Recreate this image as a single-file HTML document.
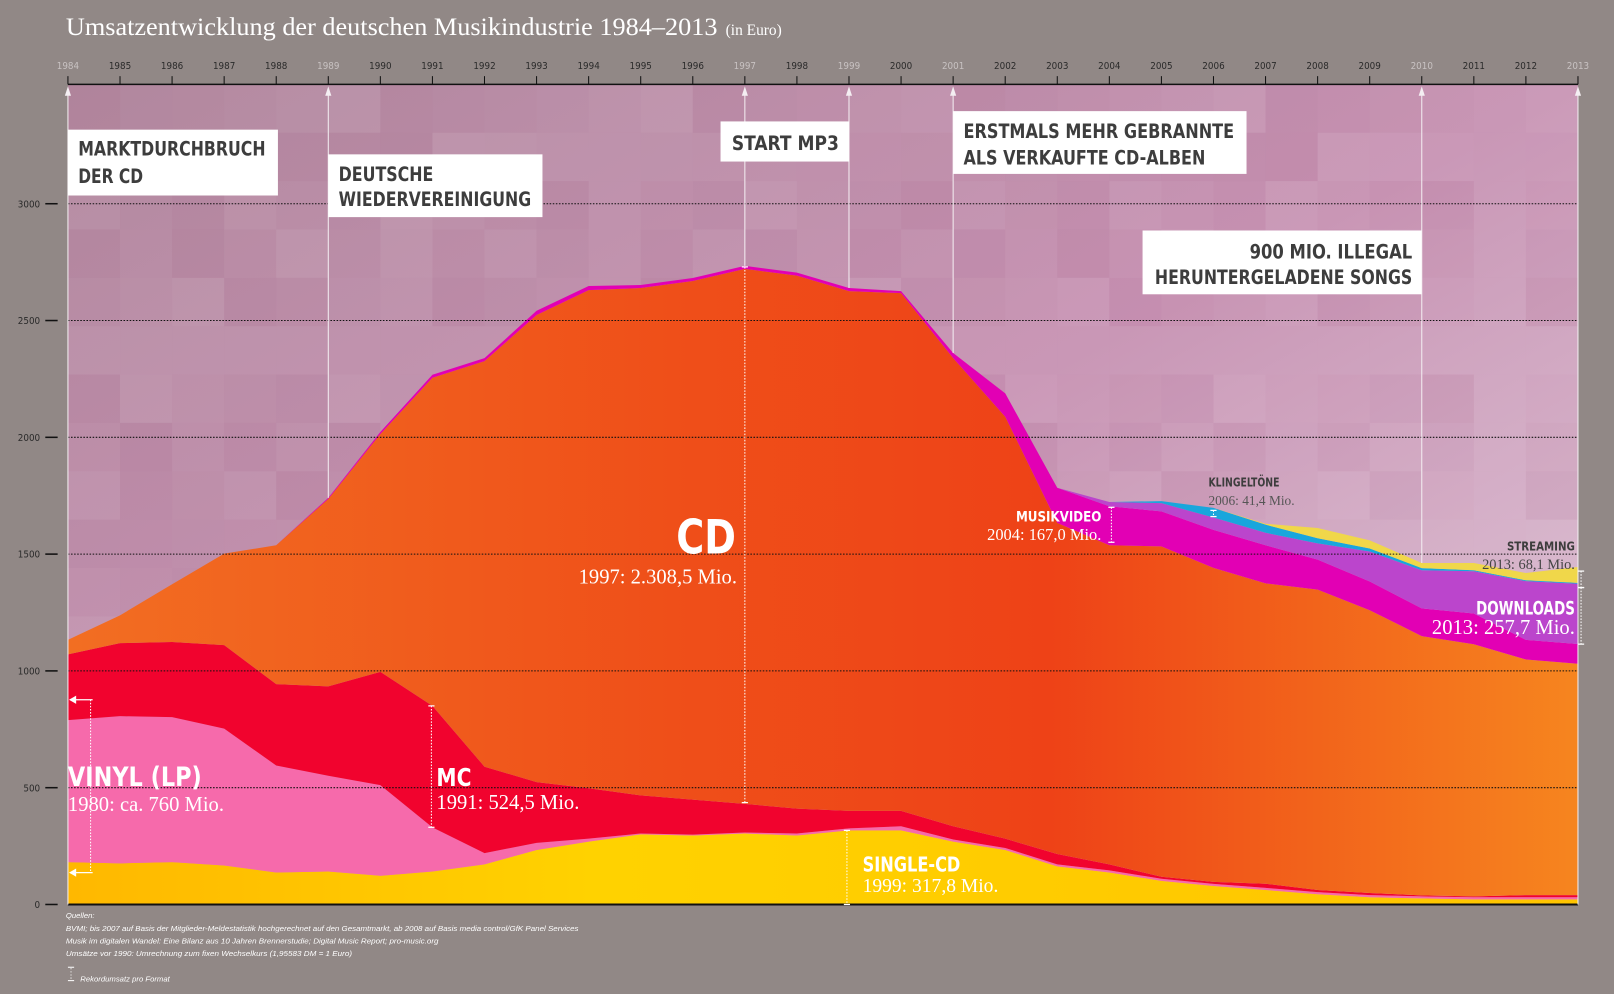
<!DOCTYPE html>
<html><head><meta charset="utf-8">
<style>
html,body{margin:0;padding:0;background:#918886;}
svg{display:block;}
.ax{font-family:"Liberation Sans Narrow","DejaVu Sans Condensed","Liberation Sans",sans-serif;font-size:9.5px;fill:#2a2a2a;}
.box{font-family:"DejaVu Sans Condensed","Liberation Sans Narrow","Liberation Sans",sans-serif;font-weight:bold;fill:#3d3d3d;font-size:19px;}
.lbl{font-family:"DejaVu Sans Condensed","Liberation Sans Narrow","Liberation Sans",sans-serif;font-weight:bold;fill:#fff;}
.ser{font-family:"Liberation Serif",serif;fill:#fff;}
.foot{font-family:"Liberation Sans Narrow","Liberation Sans",sans-serif;font-style:italic;font-size:7.5px;fill:#fff;}
</style></head>
<body>
<svg id="chart" width="1614" height="994" viewBox="0 0 1568 966" preserveAspectRatio="none" xmlns="http://www.w3.org/2000/svg">
<defs>
<linearGradient id="bgG" x1="0" y1="0" x2="1" y2="1">
<stop offset="0" stop-color="#b38aa0"/><stop offset="0.5" stop-color="#c894b4"/><stop offset="1" stop-color="#e2cbdb"/>
</linearGradient>
<linearGradient id="cdG" x1="0" y1="0" x2="1" y2="0">
<stop offset="0" stop-color="#f26e22"/><stop offset="0.4" stop-color="#ef4f19"/><stop offset="0.65" stop-color="#ee4217"/><stop offset="1" stop-color="#f6851f"/>
</linearGradient>
<linearGradient id="sgG" x1="0" y1="0" x2="1" y2="0">
<stop offset="0" stop-color="#ffb800"/><stop offset="0.35" stop-color="#ffd200"/><stop offset="1" stop-color="#ffc400"/>
</linearGradient>
</defs>
<rect x="0" y="0" width="1568" height="966" fill="#918886"/>
<text x="64" y="34" class="ser" font-size="25" textLength="633" lengthAdjust="spacingAndGlyphs">Umsatzentwicklung der deutschen Musikindustrie 1984–2013</text>
<text x="705" y="34" class="ser" font-size="15">(in Euro)</text>
<rect x="66" y="82" width="1467" height="797" fill="url(#bgG)"/>
<g id="mosaic"></g>
<g id="areas"></g>
<g id="grid"></g>
<g id="xaxis"></g>
<g id="yaxis"></g>
<g id="events"></g>

<g>
<rect x="66" y="126" width="204" height="64" fill="#fff"/>
<text class="box" x="76" y="151" textLength="182" lengthAdjust="spacingAndGlyphs">MARKTDURCHBRUCH</text><text class="box" x="76" y="178" textLength="63" lengthAdjust="spacingAndGlyphs">DER CD</text></g>
<g>
<rect x="319" y="150" width="208" height="61" fill="#fff"/>
<text class="box" x="329" y="176" textLength="92" lengthAdjust="spacingAndGlyphs">DEUTSCHE</text><text class="box" x="329" y="200" textLength="187" lengthAdjust="spacingAndGlyphs">WIEDERVEREINIGUNG</text></g>
<g>
<rect x="700" y="118" width="125" height="39" fill="#fff"/>
<text class="box" x="711" y="146" textLength="104" lengthAdjust="spacingAndGlyphs">START MP3</text></g>
<g>
<rect x="926" y="108" width="285" height="61" fill="#fff"/>
<text class="box" x="936" y="134" textLength="263" lengthAdjust="spacingAndGlyphs">ERSTMALS MEHR GEBRANNTE</text><text class="box" x="936" y="160" textLength="235" lengthAdjust="spacingAndGlyphs">ALS VERKAUFTE CD-ALBEN</text></g>
<g>
<rect x="1110" y="224" width="271" height="62" fill="#fff"/>
<text class="box" x="1214" y="251" textLength="158" lengthAdjust="spacingAndGlyphs">900 MIO. ILLEGAL</text><text class="box" x="1122" y="276" textLength="250" lengthAdjust="spacingAndGlyphs">HERUNTERGELADENE SONGS</text></g>

<g id="records"></g>

<g>
<text class="lbl" x="657" y="538" font-size="46" textLength="58" lengthAdjust="spacingAndGlyphs">CD</text>
<text class="ser" x="716" y="567" font-size="20" text-anchor="end">1997: 2.308,5 Mio.</text></g>
<g>
<text class="lbl" x="66" y="764" font-size="26" textLength="130" lengthAdjust="spacingAndGlyphs">VINYL (LP)</text>
<text class="ser" x="66" y="788" font-size="20">1980: ca. 760 Mio.</text></g>
<g>
<text class="lbl" x="424" y="764" font-size="24" textLength="34" lengthAdjust="spacingAndGlyphs">MC</text>
<text class="ser" x="424" y="786" font-size="20">1991: 524,5 Mio.</text></g>
<g>
<text class="lbl" x="838" y="847" font-size="20" textLength="95" lengthAdjust="spacingAndGlyphs">SINGLE-CD</text>
<text class="ser" x="838" y="867" font-size="19">1999: 317,8 Mio.</text></g>
<g>
<text class="lbl" x="987" y="507" font-size="14" textLength="83" lengthAdjust="spacingAndGlyphs">MUSIKVIDEO</text>
<text class="ser" x="1070" y="525" font-size="16" text-anchor="end">2004: 167,0 Mio.</text></g>
<g>
<text class="lbl" x="1174" y="473" font-size="12" style="fill:#3d3d3d" textLength="69" lengthAdjust="spacingAndGlyphs">KLINGELTÖNE</text>
<text class="ser" x="1174" y="491" font-size="13" style="fill:#555">2006: 41,4 Mio.</text></g>
<g>
<text class="lbl" x="1464" y="535" font-size="12" style="fill:#3d3d3d" textLength="66" lengthAdjust="spacingAndGlyphs">STREAMING</text>
<text class="ser" x="1530" y="553" font-size="14" text-anchor="end" style="fill:#444">2013: 68,1 Mio.</text></g>
<g>
<text class="lbl" x="1434" y="597" font-size="18" textLength="96" lengthAdjust="spacingAndGlyphs">DOWNLOADS</text>
<text class="ser" x="1530" y="616" font-size="20" text-anchor="end">2013: 257,7 Mio.</text></g>

<g>
<text class="foot" x="64" y="892">Quellen:</text>
<text class="foot" x="64" y="905" textLength="498" lengthAdjust="spacingAndGlyphs">BVMI; bis 2007 auf Basis der Mitglieder-Meldestatistik hochgerechnet auf den Gesamtmarkt, ab 2008 auf Basis media control/GfK Panel Services</text>
<text class="foot" x="64" y="917" textLength="362" lengthAdjust="spacingAndGlyphs">Musik im digitalen Wandel: Eine Bilanz aus 10 Jahren Brennerstudie; Digital Music Report; pro-music.org</text>
<text class="foot" x="64" y="929" textLength="278" lengthAdjust="spacingAndGlyphs">Umsätze vor 1990: Umrechnung zum fixen Wechselkurs (1,95583 DM = 1 Euro)</text>
<line x1="66" y1="940" x2="72" y2="940" stroke="#fff" stroke-width="1"/>
<line x1="69" y1="941" x2="69" y2="952" stroke="#fff" stroke-dasharray="1,2"/>
<line x1="66" y1="953" x2="72" y2="953" stroke="#fff" stroke-width="1"/>
<text class="foot" x="78" y="954">Rekordumsatz pro Format</text>
</g>
</svg>
<script>
const years = [1984,1985,1986,1987,1988,1989,1990,1991,1992,1993,1994,1995,1996,1997,1998,1999,2000,2001,2002,2003,2004,2005,2006,2007,2008,2009,2010,2011,2012,2013];
const singleCd = [181,176,181,167,137,141,123,141,172,233,269,300,295,304,295,317,317,269,233,163,137,101,79,62,44,31,26,22,22,22];
const vinyl = [608,630,621,586,458,410,388,189,48,31,13,4,4,4,9,9,18,9,9,9,9,9,9,9,9,9,9,9,9,9];
const mc = [282,313,322,357,348,383,485,520,370,260,216,163,150,123,106,75,66,57,40,44,26,9,9,18,9,9,4,4,9,9];
const cd = [62,119,247,392,595,802,1018,1405,1736,2000,2132,2172,2220,2290,2282,2225,2216,2004,1806,1418,1366,1414,1344,1286,1286,1211,1110,1079,1009,991];
const video = [0,0,0,0,0,5,9,13,13,18,18,13,13,13,13,13,9,22,100,150,167,150,163,163,128,123,119,132,84,84];
const downloads = [0,0,0,0,0,0,0,0,0,0,0,0,0,0,0,0,0,0,0,0,18,35,53,53,70,128,163,181,251,258];
const ringtones = [0,0,0,0,0,0,0,0,0,0,0,0,0,0,0,0,0,0,0,0,0,9,41,35,22,13,9,4,4,4];
const streaming = [0,0,0,0,0,0,0,0,0,0,0,0,0,0,0,0,0,0,0,0,0,0,0,4,44,35,22,31,31,68];
const yTicks = [0,500,1000,1500,2000,2500,3000];
const greyYears = [1984,1989,1997,1999,2001,2010,2013];
const eventYears = [1984,1989,1997,1999,2001,2010,2013];

const NS = "http://www.w3.org/2000/svg";
const X0 = 66, X1 = 1533, Y0 = 879, PX = 0.227;
function xs(yr){ return X0 + (yr - years[0]) * (X1 - X0) / (years[years.length-1] - years[0]); }
function ys(v){ return Y0 - v * PX; }
function mk(tag, attrs, parent){ const e = document.createElementNS(NS, tag); for (const k in attrs) e.setAttribute(k, attrs[k]); parent.appendChild(e); return e; }

const mos = document.getElementById('mosaic');
const cw = (X1 - X0) / 29;
for (let i = 0; i < 29; i++) for (let j = 0; j < 17; j++) {
  const s = ((i * 37 + j * 91 + i * j * 13) % 17) / 17;
  const h = Math.min(47, Y0 - (82 + j * 47));
  if (h <= 0) continue;
  const r = mk('rect', {x: X0 + i * cw, y: 82 + j * 47, width: cw, height: h, fill: s > 0.5 ? '#ffffff' : '#8a3a6a', opacity: (Math.abs(s - 0.5) * 0.14).toFixed(3)}, mos);
  
  
}

const layers = [
  ['single-cd-area', singleCd, 'url(#sgG)'],
  ['vinyl-area', vinyl, '#f66aab'],
  ['mc-area', mc, '#f1032e'],
  ['cd-area', cd, 'url(#cdG)'],
  ['musikvideo-area', video, '#e200b4'],
  ['downloads-area', downloads, '#bb45cc'],
  ['klingeltoene-area', ringtones, '#19a6dc'],
  ['streaming-area', streaming, '#f0d74a']
];
const areas = document.getElementById('areas');
let base = years.map(() => 0);
layers.forEach(([name, vals, col]) => {
  const top = base.map((b, i) => b + vals[i]);
  let d = '';
  years.forEach((yr, i) => { d += (i ? 'L' : 'M') + xs(yr).toFixed(1) + ',' + ys(top[i]).toFixed(1); });
  for (let i = years.length - 1; i >= 0; i--) d += 'L' + xs(years[i]).toFixed(1) + ',' + ys(base[i]).toFixed(1);
  const p = mk('path', {d: d + 'Z', fill: col}, areas);
  
  
  base = top;
});
const totals = base;

const grid = document.getElementById('grid');
yTicks.forEach(t => {
  if (t === 0) return;
  const l = mk('line', {x1: X0, x2: X1, y1: ys(t), y2: ys(t), stroke: '#111', 'stroke-width': 1, 'stroke-dasharray': '1.5,1.5'}, grid);
  
  
});

const ya = document.getElementById('yaxis');
yTicks.forEach(t => {
  const l = mk('line', {x1: 44, x2: 56, y1: ys(t), y2: ys(t), stroke: '#111', 'stroke-width': 1.5}, ya);
  
  
  const tx = mk('text', {x: 39, y: ys(t) + 3.5, 'text-anchor': 'end', class: 'ax'}, ya);
  tx.textContent = t;
  
  
});
const bl = mk('line', {x1: 66, x2: X1, y1: Y0, y2: Y0, stroke: '#111', 'stroke-width': 2}, ya);



const xa = document.getElementById('xaxis');
const al = mk('line', {x1: X0, x2: X1, y1: 82, y2: 82, stroke: '#111', 'stroke-width': 1.5}, xa);


years.forEach(yr => {
  const t = mk('line', {x1: xs(yr), x2: xs(yr), y1: 74, y2: 82, stroke: '#111', 'stroke-width': 1}, xa);
  
  
  const tx = mk('text', {x: xs(yr), y: 67, 'text-anchor': 'middle', class: 'ax'}, xa);
  if (greyYears.includes(yr)) tx.setAttribute('style', 'fill:#c8c2c2');
  tx.textContent = yr;
  
  
});

const ev = document.getElementById('events');
eventYears.forEach(yr => {
  const i = years.indexOf(yr);
  const x = xs(yr);
  const end = (yr === 1984 || yr === 2013) ? Y0 : ys(totals[i]);
  const l = mk('line', {x1: x, x2: x, y1: 86, y2: end, stroke: '#f4eef2', 'stroke-width': 1}, ev);
  
  
  const a = mk('path', {d: `M${x - 3},93 L${x},84 L${x + 3},93 Z`, fill: '#f4eef2'}, ev);
  
  
});

const rec = document.getElementById('records');
function marker(name, x, y1, y2){
  const g = mk('g', {}, rec);
  
  
  mk('line', {x1: x, x2: x, y1: y1, y2: y2, stroke: '#fff', 'stroke-width': 1, 'stroke-dasharray': '1.5,1.5'}, g);
  mk('line', {x1: x - 3, x2: x + 3, y1: y1, y2: y1, stroke: '#fff', 'stroke-width': 1.2}, g);
  mk('line', {x1: x - 3, x2: x + 3, y1: y2, y2: y2, stroke: '#fff', 'stroke-width': 1.2}, g);
}
marker('record-cd-1997', xs(1997), ys(totals[13]) + 1, 780);
marker('record-single-1999', xs(1999) - 2, 807, Y0);
marker('record-mc-1991', xs(1991) - 1, 686, 804);
marker('record-video-2004', xs(2004) + 2, 493, 527);
marker('record-ring-2006', xs(2006), 496, 502);
marker('record-stream-2013', X1 + 3, 555, 571);
marker('record-downloads-2013', X1 + 3, 571, 626);
const vg = mk('g', {}, rec);


mk('line', {x1: 88, x2: 88, y1: 680, y2: 848, stroke: '#fff', 'stroke-dasharray': '1.5,1.5'}, vg);
mk('line', {x1: 68, x2: 90, y1: 680, y2: 680, stroke: '#fff', 'stroke-width': 1.2}, vg);
mk('line', {x1: 68, x2: 90, y1: 848, y2: 848, stroke: '#fff', 'stroke-width': 1.2}, vg);
mk('path', {d: 'M67,680 L74,676 L74,684 Z', fill: '#fff'}, vg);
mk('path', {d: 'M67,848 L74,844 L74,852 Z', fill: '#fff'}, vg);
</script>
</body></html>
